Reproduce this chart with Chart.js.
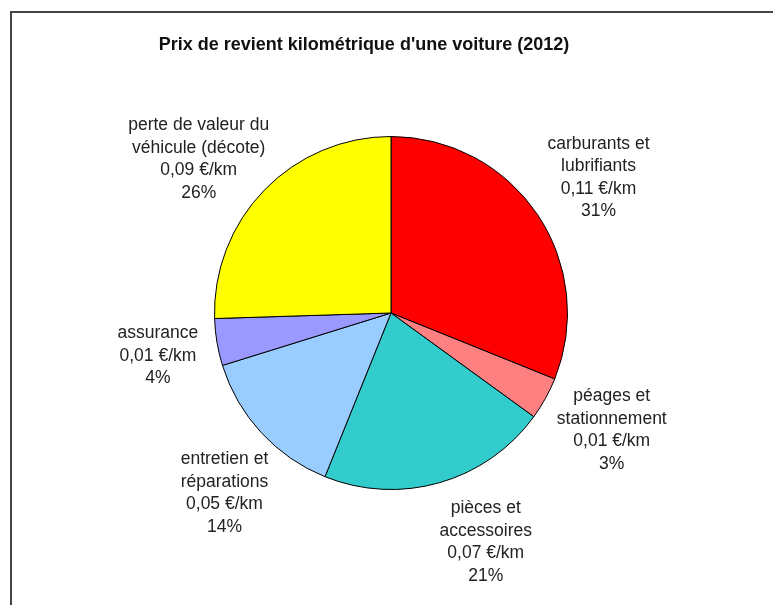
<!DOCTYPE html>
<html>
<head>
<meta charset="utf-8">
<script src="https://cdn.jsdelivr.net/npm/chart.js@4/dist/chart.umd.min.js"></script>
<style>
  html, body { margin: 0; padding: 0; background: #fff; }
  #wrap { position: relative; width: 773px; height: 605px; }
</style>
</head>
<body>
<div id="wrap"><canvas id="pie"></canvas></div>
<script>
"use strict";

// data
var titleText = "Prix de revient kilométrique d'une voiture (2012)";
var categories = [
  ["carburants et", "lubrifiants"],
  ["péages et", "stationnement"],
  ["pièces et", "accessoires"],
  ["entretien et", "réparations"],
  ["assurance"],
  ["perte de valeur du", "véhicule (décote)"]
];
// share of each slice as drawn (%)
var shares = [31.1, 3.9, 21.1, 14.1, 4.3, 25.5];
var costLabels = ["0,11 €/km", "0,01 €/km", "0,07 €/km", "0,05 €/km", "0,01 €/km", "0,09 €/km"];
var pctLabels = ["31%", "3%", "21%", "14%", "4%", "26%"];

// styling
var colors = ["#ff0000", "#ff8080", "#33cccc", "#99ccff", "#9999ff", "#ffff00"];
// small per-label shifts, like the hand placed labels of the original
var labelNudge = [[4, 2], [6, -2], [27, -7], [14, 14], [9, 2], [-16, 17]];

var FONT = "Arial, 'Liberation Sans', sans-serif";

// frame + title + outside labels
var decorations = {
  id: "decorations",
  beforeDraw: function(chart) {
    var ctx = chart.ctx;
    ctx.save();
    ctx.strokeStyle = "#444";
    ctx.lineWidth = 2;
    ctx.beginPath();
    ctx.moveTo(11, 605);
    ctx.lineTo(11, 12);
    ctx.lineTo(773, 12);
    ctx.stroke();
    ctx.restore();
  },
  afterDraw: function(chart) {
    var ctx = chart.ctx;
    ctx.save();
    ctx.fillStyle = "#111";
    ctx.font = "bold 18px " + FONT;
    ctx.textAlign = "center";
    ctx.textBaseline = "middle";
    ctx.fillText(titleText, 364, 45);

    ctx.fillStyle = "#222";
    ctx.font = "17.5px " + FONT;
    var arcs = chart.getDatasetMeta(0).data;
    arcs.forEach(function(arc, i) {
      var mid = (arc.startAngle + arc.endAngle) / 2;
      var dist = arc.outerRadius + 69;
      var cx = arc.x + Math.cos(mid) * dist + labelNudge[i][0];
      var cy = arc.y + Math.sin(mid) * dist + labelNudge[i][1];
      var lines = categories[i].concat([costLabels[i], pctLabels[i]]);
      var lh = 22.5;
      var y0 = cy - (lines.length - 1) * lh / 2;
      lines.forEach(function(t, k) {
        ctx.fillText(t, cx, y0 + k * lh);
      });
    });
    ctx.restore();
  }
};

new Chart(document.getElementById("pie"), {
  type: "pie",
  data: {
    labels: categories.map(function(c) { return c.join(" "); }),
    datasets: [
      {
        data: shares,
        backgroundColor: colors,
        borderColor: "#000",
        borderWidth: 1
      }
    ]
  },
  options: {
    responsive: true,
    maintainAspectRatio: false,
    animation: false,
    layout: {
      padding: { top: 136, bottom: 115, left: 214, right: 205 }
    },
    plugins: {
      legend: { display: false },
      title: { display: false },
      tooltip: { enabled: false }
    }
  },
  plugins: [decorations]
});
</script>
</body>
</html>
